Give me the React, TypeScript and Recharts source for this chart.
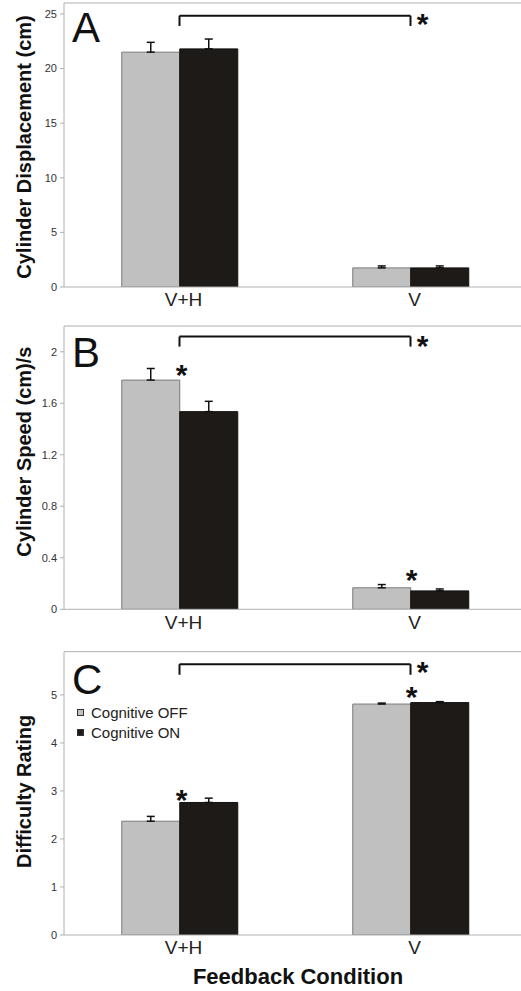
import React from 'react';
import { BarChart, Bar, XAxis, YAxis, ErrorBar, ReferenceLine, ReferenceDot, Legend } from 'recharts';

const conditions = ['V+H', 'V'];
const seriesNames = ['Cognitive OFF', 'Cognitive ON'];

// A: cylinder displacement (cm)
const displacementOff = [21.5, 1.75];
const displacementOn = [21.8, 1.75];
const displacementOffErr = [0.9, 0.18];
const displacementOnErr = [0.9, 0.18];
const displacementTicks = [0, 5, 10, 15, 20, 25];

// B: cylinder speed (cm)/s
const speedOff = [1.78, 0.167];
const speedOn = [1.535, 0.143];
const speedOffErr = [0.09, 0.025];
const speedOnErr = [0.08, 0.015];
const speedTicks = [0, 0.4, 0.8, 1.2, 1.6, 2];

// C: difficulty rating
const ratingOff = [2.37, 4.81];
const ratingOn = [2.76, 4.84];
const ratingOffErr = [0.1, 0.02];
const ratingOnErr = [0.09, 0.02];
const ratingTicks = [0, 1, 2, 3, 4, 5];

// significance markers (category, value, side)
const displacementStars = [{ cond: 'V', value: 24.35, dx: 12 }];
const speedStars = [
  { cond: 'V', value: 2.07, dx: 12 },
  { cond: 'V+H', value: 1.844, dx: 2 },
  { cond: 'V', value: 0.25, dx: 1 },
];
const ratingStars = [
  { cond: 'V', value: 5.53, dx: 12 },
  { cond: 'V+H', value: 2.88, dx: 2 },
  { cond: 'V', value: 5.01, dx: 1 },
];

const FONT = '"Liberation Sans", Arial, Helvetica, sans-serif';
const GRAY = '#c0c0c0';
const BLACK = '#1e1a17';
const FRAME = '#b0b0b0';

const buildRows = (off: number[], on: number[], offErr: number[], onErr: number[]) =>
  conditions.map((c, i) => ({
    cond: c,
    off: off[i],
    on: on[i],
    offErr: [0, offErr[i]],
    onErr: [0, onErr[i]],
  }));

const star = (dx: number) => (props: any) => (
  <text
    x={props.cx + dx}
    y={props.cy + 13}
    textAnchor="middle"
    fontSize={30}
    fontWeight="bold"
    fill="#111"
    fontFamily={FONT}
  >
    *
  </text>
);

const yTitle = (text: string, shift: number) => (props: any) => {
  const { x, y, height } = props.viewBox;
  const cx = x + 31;
  const cy = y + height / 2 + shift;
  return (
    <text
      x={cx}
      y={cy}
      transform={`rotate(-90, ${cx}, ${cy})`}
      textAnchor="middle"
      fontSize={20}
      fontWeight="bold"
      fill="#111"
      fontFamily={FONT}
    >
      {text}
    </text>
  );
};

const xTitle = (props: any) => {
  const { x, y, width } = props.viewBox;
  return (
    <text
      x={x + width / 2 + 3}
      y={y + 49}
      textAnchor="middle"
      fontSize={22}
      fontWeight="bold"
      fill="#111"
      fontFamily={FONT}
    >
      Feedback Condition
    </text>
  );
};

const renderLegend = (props: any) => (
  <div style={{ fontFamily: FONT }}>
    {props.payload.map((p: any) => (
      <div key={p.value} style={{ display: 'flex', alignItems: 'center', height: 20, fontSize: 15, color: '#222' }}>
        <span
          style={{
            display: 'inline-block',
            width: 5,
            height: 5,
            background: p.color,
            border: '1px solid #333',
            marginRight: 7,
          }}
        />
        {p.value}
      </div>
    ))}
  </div>
);

type PanelProps = {
  top: number;
  height: number;
  marginTop: number;
  axisHeight: number;
  rows: any[];
  yMax: number;
  ticks: number[];
  title: string;
  titleShift: number;
  letter: string;
  letterBaseline: number;
  bracket: { level: number; drop: number };
  stars: { cond: string; value: number; dx: number }[];
  legend?: boolean;
  bottomTitle?: boolean;
};

const Panel = (p: PanelProps) => (
  <div style={{ position: 'absolute', left: 0, top: p.top, width: 530, height: p.height }}>
    <BarChart
      width={530}
      height={p.height}
      data={p.rows}
      margin={{ top: p.marginTop, right: 4, bottom: 0, left: 0 }}
      barCategoryGap="25%"
      barGap={0}
    >
      <XAxis
        xAxisId="sep"
        type="number"
        domain={[0, 2]}
        ticks={[0, 1, 2]}
        tick={false}
        axisLine={false}
        tickLine={{ stroke: FRAME }}
        tickSize={4}
        height={0}
      />
      <XAxis
        dataKey="cond"
        height={p.axisHeight}
        tickLine={false}
        tickSize={6}
        tickMargin={0}
        axisLine={{ stroke: FRAME }}
        tick={{ fontSize: 19, fill: '#222', fontFamily: FONT, dx: 4 }}
        label={p.bottomTitle ? xTitle : undefined}
      />
      <YAxis
        width={64}
        domain={[0, p.yMax]}
        ticks={p.ticks}
        allowDataOverflow
        axisLine={{ stroke: FRAME }}
        tickLine={{ stroke: FRAME }}
        tickSize={4}
        tickMargin={3}
        tick={{ fontSize: 11, fill: '#333', fontFamily: FONT }}
        label={yTitle(p.title, p.titleShift)}
      />
      <ReferenceLine y={p.yMax} stroke={FRAME} ifOverflow="extendDomain" />
      <Bar dataKey="off" name={seriesNames[0]} fill={GRAY} stroke="#7a7a7a" strokeWidth={1} isAnimationActive={false}>
        <ErrorBar dataKey="offErr" direction="y" width={4} stroke="#111" strokeWidth={1.5} />
      </Bar>
      <Bar dataKey="on" name={seriesNames[1]} fill={BLACK} stroke="#111" strokeWidth={1} isAnimationActive={false}>
        <ErrorBar dataKey="onErr" direction="y" width={4} stroke="#111" strokeWidth={1.5} />
      </Bar>
      <ReferenceLine
        segment={[
          { x: conditions[0], y: p.bracket.level },
          { x: conditions[1], y: p.bracket.level },
        ]}
        stroke="#111"
        strokeWidth={2}
      />
      <ReferenceLine
        segment={[
          { x: conditions[0], y: p.bracket.level },
          { x: conditions[0], y: p.bracket.drop },
        ]}
        stroke="#111"
        strokeWidth={2}
      />
      <ReferenceLine
        segment={[
          { x: conditions[1], y: p.bracket.level },
          { x: conditions[1], y: p.bracket.drop },
        ]}
        stroke="#111"
        strokeWidth={2}
      />
      {p.stars.map((s, i) => (
        <ReferenceDot key={i} x={s.cond} y={s.value} r={0} shape={star(s.dx)} />
      ))}
      {p.legend && (
        <Legend
          layout="horizontal"
          verticalAlign="middle"
          align="center"
          content={renderLegend}
          wrapperStyle={{ left: 77, top: 62, width: 'auto' }}
        />
      )}
    </BarChart>
    <div
      style={{
        position: 'absolute',
        left: 72,
        top: p.letterBaseline - 36,
        fontSize: 42,
        lineHeight: '42px',
        fontFamily: FONT,
        color: '#111',
        pointerEvents: 'none',
      }}
    >
      {p.letter}
    </div>
  </div>
);

export default function App() {
  return (
    <div
      style={{
        position: 'absolute',
        left: 0,
        top: 0,
        width: 521,
        height: 991,
        overflow: 'hidden',
        background: '#fff',
        fontFamily: FONT,
      }}
    >
      <Panel
        top={0}
        height={320}
        marginTop={3}
        axisHeight={33}
        rows={buildRows(displacementOff, displacementOn, displacementOffErr, displacementOnErr)}
        yMax={26}
        ticks={displacementTicks}
        title="Cylinder Displacement (cm)"
        titleShift={2}
        letter="A"
        letterBaseline={43}
        bracket={{ level: 24.84, drop: 23.9 }}
        stars={displacementStars}
      />
      <Panel
        top={320}
        height={320}
        marginTop={6}
        axisHeight={30.7}
        rows={buildRows(speedOff, speedOn, speedOffErr, speedOnErr)}
        yMax={2.2}
        ticks={speedTicks}
        title="Cylinder Speed (cm)/s"
        titleShift={-16}
        letter="B"
        letterBaseline={48}
        bracket={{ level: 2.118, drop: 2.04 }}
        stars={speedStars}
      />
      <Panel
        top={640}
        height={351}
        marginTop={11.7}
        axisHeight={56}
        rows={buildRows(ratingOff, ratingOn, ratingOffErr, ratingOnErr)}
        yMax={5.9}
        ticks={ratingTicks}
        title="Difficulty Rating"
        titleShift={-2}
        letter="C"
        letterBaseline={55}
        bracket={{ level: 5.64, drop: 5.42 }}
        stars={ratingStars}
        legend
        bottomTitle
      />
    </div>
  );
}
